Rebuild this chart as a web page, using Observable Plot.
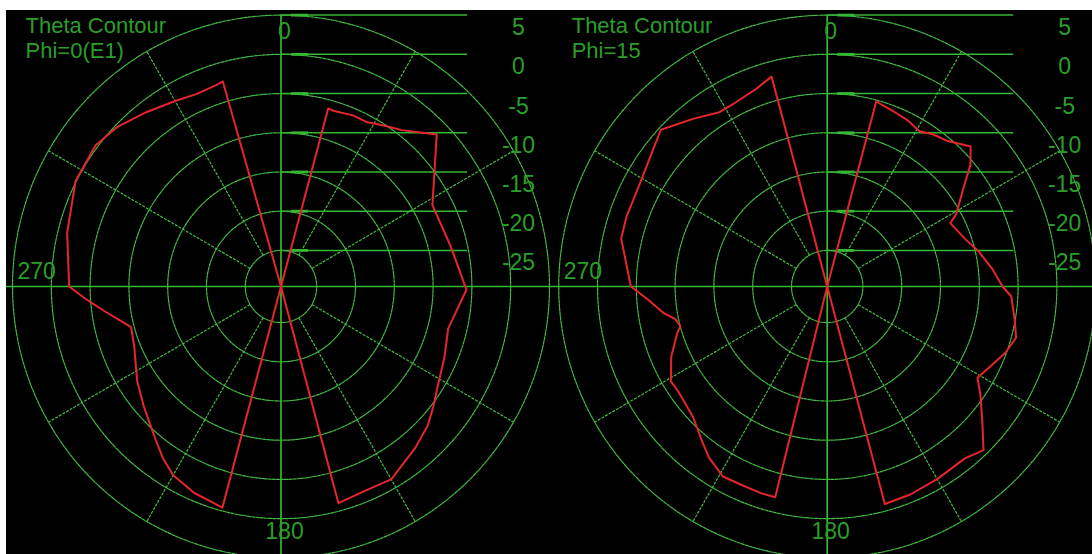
<!DOCTYPE html>
<html>
<head>
<meta charset="utf-8">
<script src="https://cdn.jsdelivr.net/npm/d3@7"></script>
<script src="https://cdn.jsdelivr.net/npm/@observablehq/plot@0.6"></script>
<style>
  html, body { margin: 0; padding: 0; background: #ffffff; }
  #chart { position: absolute; left: 6px; top: 10px; width: 1086px; height: 544px; background: #000; }
  #chart svg { display: block; }
</style>
</head>
<body>
<div id="chart"></div>
<script>
// ---------------- data ----------------
const panelTitles = ["Theta Contour", "Theta Contour"];
const panelSubtitles = ["Phi=0(E1)", "Phi=15"];
const ringLevels = [-25, -20, -15, -10, -5, 0, 5];
const ringLabels = ["-25", "-20", "-15", "-10", "-5", "0", "5"];
const spokeAngles = [30, 60, 120, 150, 210, 240, 300, 330];
const angleLabelText = ["0", "270", "180"];

// Phi = 0 (E1) : theta (deg, clockwise from top) and gain (dB)
const phi0Theta = [0, 15, 17, 23, 28, 30, 34, 38, 43, 46, 62, 76, 85, 91, 104, 113, 121, 128, 133, 140,
  150, 157, 165, 180, 195, 199, 203, 210, 215, 221, 229, 237, 248, 255, 257, 262, 266, 270, 284, 297,
  307, 314, 322, 330, 336, 342, 344, 360];
const phi0Gain = [-30, -6.1, -6.2, -5.9, -5.9, -5.6, -5.0, -4.3, -2.8, -1.7, -7.5, -7.2, -6.5, -5.7, -7.4, -6.7, -5.9, -4.7, -3.7, -2.7,
  -1.2, -1.4, -1.0, -30, -0.4, -0.8, -1.0, -1.8, -3.0, -4.6, -6.2, -7.5, -9.2, -9.6, -8.9, -6.7, -4.6, -2.3, -1.2, 0.1,
  0.3, -0.3, -1.4, -2.3, -2.75, -2.6, -2.4, -30];

// Phi = 15
const phi15Theta = [0, 15, 17, 21, 26, 31, 35, 40, 46, 50, 53, 61, 63, 71, 77, 84, 90, 93, 100, 105,
  110, 115, 121, 125, 131, 136, 141, 150, 158, 165, 180, 194, 198, 204, 209, 215, 220, 226, 235, 239,
  246, 253, 255, 258, 261, 266, 270, 283, 289, 299, 307, 313, 321, 328, 333, 340, 345, 360];
const phi15Gain = [-30, -5.15, -5.4, -5.7, -6.0, -6.5, -5.9, -5.4, -3.9, -5.5, -7.3, -10.6, -11.8, -10.85, -9.6, -8.2, -7.0, -5.85, -5.06, -4.4,
  -5.1, -6.1, -7.0, -5.5, -3.1, -0.6, -1.4, -1.25, -1.0, -0.9, -30, -1.9, -1.9, -2.0, -1.9, -3.0, -4.3, -5.6, -6.2, -6.1,
  -7.6, -9.4, -10.0, -9.6, -8.2, -6.4, -4.3, -2.35, -2.25, -2.1, -1.3, -0.3, -2.1, -3.4, -3.35, -2.8, -1.9, -30];

// ---------------- layout ----------------
const W = 1086, H = 544;
const CX = [274.5, 820.7], CY = 276;
const RX = 268.5, RY = 271.4;
const FLOOR = -29.6, TOP = 5;
const SPAN = TOP - FLOOR;
const kx = RX / SPAN, ky = RY / SPAN;
const offs = CX.map(c => (c - CX[0]) / kx);
const xDomain = [-CX[0] / kx, (W - CX[0]) / kx];
const yDomain = [-(H - CY) / ky, CY / ky];

const rad = v => Math.max(0, v - FLOOR);
const toR = d => d * Math.PI / 180;
const pt = (p, theta, v) => ({x: offs[p] + rad(v) * Math.sin(toR(theta)), y: rad(v) * Math.cos(toR(theta)), p});
const px = (p, dx) => offs[p] + dx / kx;
const py = dy => -dy / ky;

const series = [{theta: phi0Theta, gain: phi0Gain}, {theta: phi15Theta, gain: phi15Gain}];
const curve = series.flatMap((s, p) => s.theta.map((t, i) => pt(p, t, s.gain[i])));

const rings = [];
[0, 1].forEach(p => ringLevels.forEach(l => {
  for (let a = 0; a <= 360; a += 2) rings.push({...pt(p, a, l), key: p + ":" + l});
}));
const spokes = [0, 1].flatMap(p => spokeAngles.map(a => {
  const a1 = pt(p, a, ringLevels[0]), a2 = pt(p, a, TOP);
  return {x1: a1.x, y1: a1.y, x2: a2.x, y2: a2.y};
}));
const scaleLines = [0, 1].flatMap(p => ringLevels.map(l => ({x1: offs[p], x2: offs[p] + 186 / kx, y: rad(l)})));
const scaleTicks = [0, 1].flatMap(p => ringLevels.map(l => ({x1: offs[p] + 10 / kx, x2: offs[p] + 27 / kx, y: rad(l)})));
const dbLabels = [0, 1].flatMap(p => ringLevels.map((l, i) => ({x: px(p, 237.5), y: rad(l), text: ringLabels[i]})));
const titleLabels = [0, 1].flatMap(p => [
  {x: px(p, -255.5), y: py(-254), text: panelTitles[p]},
  {x: px(p, -255.5), y: py(-229), text: panelSubtitles[p]}
]);
const angleMid = [0, 1].flatMap(p => [
  {x: px(p, 3.5), y: py(-248), text: angleLabelText[0]},
  {x: px(p, 3.5), y: py(252), text: angleLabelText[2]}
]);
const angleLeft = [0, 1].map(p => ({x: px(p, -263.5), y: py(-8), text: angleLabelText[1]}));

const GRID = "#44bb44", AXIS = "#35b835", TEXT = "#2a9e2a", RED = "#e6262a";
const font = {fontSize: 23, fontFamily: "'Liberation Sans', Arial, sans-serif", fill: TEXT, lineAnchor: "bottom"};

const chart = Plot.plot({
  width: W, height: H, margin: 0,
  x: {domain: xDomain, axis: null},
  y: {domain: yDomain, axis: null},
  style: {background: "black"},
  marks: [
    Plot.line(rings, {x: "x", y: "y", z: "key", stroke: GRID, strokeWidth: 1.2, strokeDasharray: "3,1.2"}),
    Plot.link(spokes, {x1: "x1", y1: "y1", x2: "x2", y2: "y2", stroke: GRID, strokeWidth: 1.2, strokeDasharray: "3,1.2"}),
    Plot.link(scaleLines, {x1: "x1", x2: "x2", y1: "y", y2: "y", stroke: AXIS, strokeWidth: 1.5}),
    Plot.link(scaleTicks, {x1: "x1", x2: "x2", y1: "y", y2: "y", stroke: AXIS, strokeWidth: 2.8}),
    Plot.ruleY([0], {stroke: AXIS, strokeWidth: 1.7}),
    Plot.ruleX(offs, {y1: rad(TOP), y2: yDomain[0], stroke: AXIS, strokeWidth: 1.7}),
    Plot.line(curve, {x: "x", y: "y", z: "p", stroke: RED, strokeWidth: 2, curve: "linear"}),
    Plot.text(titleLabels, {x: "x", y: "y", text: "text", textAnchor: "start", ...font, fontSize: 22}),
    Plot.text(angleMid, {x: "x", y: "y", text: "text", textAnchor: "middle", ...font}),
    Plot.text(angleLeft, {x: "x", y: "y", text: "text", textAnchor: "start", ...font}),
    Plot.text(dbLabels, {x: "x", y: "y", text: "text", textAnchor: "middle", dy: 20, ...font})
  ]
});
document.getElementById("chart").appendChild(chart);
</script>
</body>
</html>
